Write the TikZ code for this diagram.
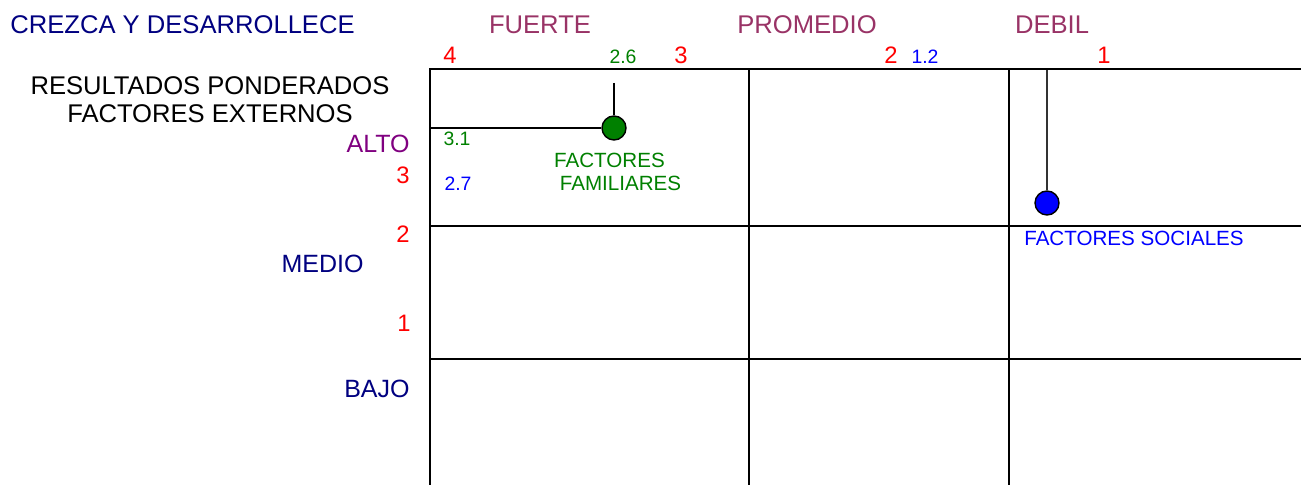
\documentclass[tikz,border=0pt]{standalone}
\usepackage{fontspec}
\setmainfont{Liberation Sans}
\definecolor{azulosc}{RGB}{0,0,128}
\definecolor{malva}{RGB}{153,51,102}
\definecolor{morado}{RGB}{128,0,128}
\definecolor{verde}{RGB}{0,128,0}
\definecolor{azul}{RGB}{0,0,255}
\begin{document}
\begin{tikzpicture}[x=0.5pt,y=-0.5pt,
  every node/.style={inner sep=0pt},
  titulo/.style={font=\fontsize{12.8}{15}\selectfont},
  nivel/.style={font=\fontsize{12.5}{15}\selectfont,anchor=east},
  num/.style={red,font=\fontsize{11.9}{14}\selectfont},
  dato/.style={font=\fontsize{9.7}{12}\selectfont},
  etiq/.style={font=\fontsize{10.3}{12}\selectfont},
  punto/.style={circle,draw,line width=0.7pt,minimum size=12pt}]
  \useasboundingbox (0,0) rectangle (1301,485);
  %\draw[gray] (0,0) rectangle (1301,485);
  \draw[line width=1pt] (430,485) -- (430,69.5) -- (1301,69.5);
  \draw[line width=1pt] (430,226) -- (1301,226);
  \draw[line width=1pt] (430,359) -- (1301,359);
  \draw[line width=1pt] (749,69.5) -- (749,485);
  \draw[line width=1pt] (1009,69.5) -- (1009,485);
  \node[titulo,azulosc,anchor=west] (crezca) at (10,24.5) {CREZCA Y DESARROLLECE};
  \node[titulo,malva] (fuerte) at (540,25) {FUERTE};
  \node[titulo,malva] (promedio) at (807,25) {PROMEDIO};
  \node[titulo,malva] (debil) at (1052,25) {DEBIL};
  \node[num] (x4) at (450,55.5) {4};
  \node[num] (x3) at (681,55.5) {3};
  \node[num] (x2) at (891,55.5) {2};
  \node[num] (x1) at (1104,55.5) {1};
  \node[dato,verde] (v26) at (623,57) {2.6};
  \node[dato,azul] (v12) at (925,57) {1.2};
  \node[titulo] (result) at (210,85.5) {RESULTADOS PONDERADOS};
  \node[titulo] (extern) at (210,113.5) {FACTORES EXTERNOS};
  \node[nivel,morado] (alto) at (410,144) {ALTO};
  \node[nivel,azulosc] (medio) at (364,264) {MEDIO};
  \node[nivel,azulosc] (bajo) at (410,388.5) {BAJO};
  \node[num,anchor=east] (y3) at (410,175) {3};
  \node[num,anchor=east] (y2) at (410,234.5) {2};
  \node[num,anchor=east] (y1) at (411,323) {1};
  \node[dato,verde] (v31) at (457,138.5) {3.1};
  \node[dato,azul] (v27) at (458,184) {2.7};
  \node[etiq,verde] (famA) at (609.5,160.5) {FACTORES};
  \node[etiq,verde] (famB) at (620.5,183.5) {FAMILIARES};
  \node[etiq,azul] (soc) at (1134,238.5) {FACTORES SOCIALES};
  \coordinate (famx) at (430,128);
  \coordinate (famy) at (614,83);
  \coordinate (socy) at (1047,70);
  \node[punto,fill=verde] (famdot) at (614,128) {};
  \node[punto,fill=azul] (socdot) at (1047,203) {};
  \draw[line width=0.9pt] (famx) -- (famdot);
  \draw[line width=0.9pt] (famy) -- (famdot);
  \draw[line width=0.9pt,black!80] (socy) -- (socdot);
\end{tikzpicture}
\end{document}
